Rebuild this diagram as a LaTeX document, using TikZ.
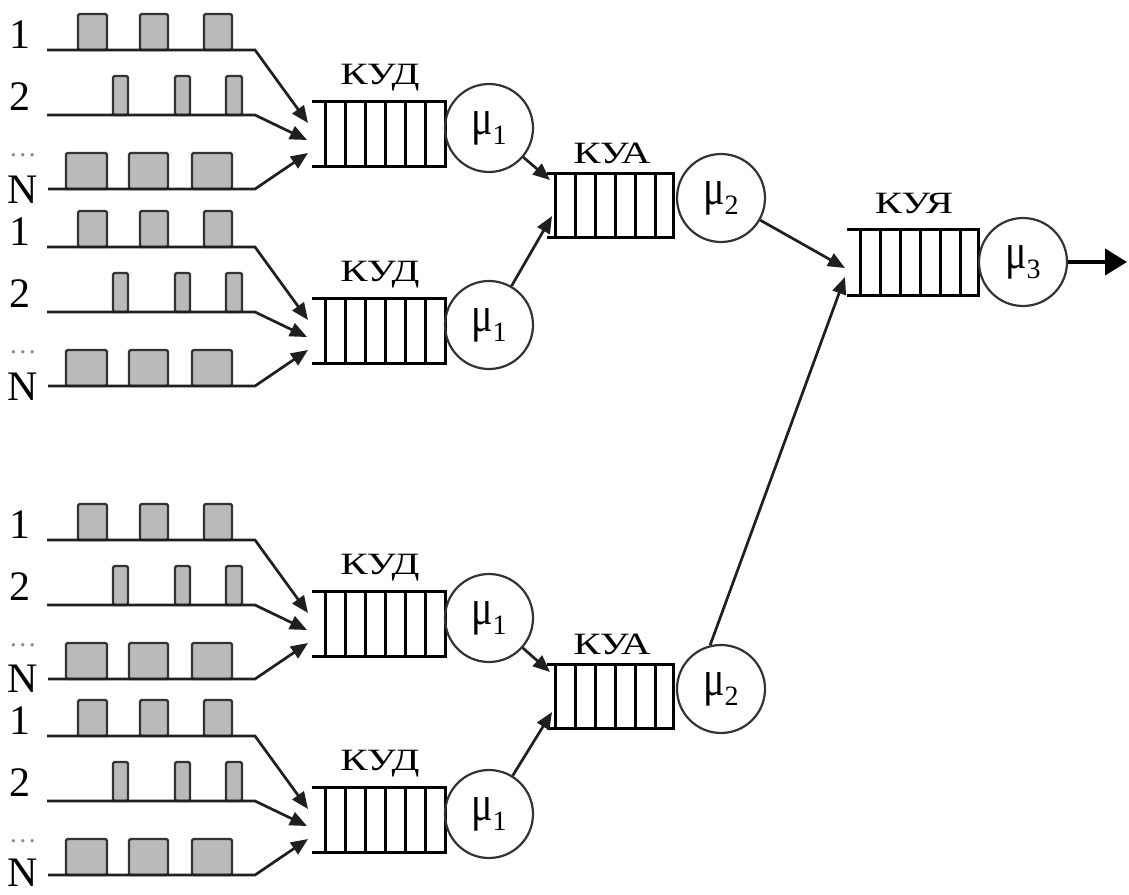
\documentclass[tikz,border=0pt]{standalone}
\usepackage{fontspec}
\setmainfont{Liberation Serif}
\usetikzlibrary{arrows.meta}
\newcommand{\mulab}[1]{\scalebox{0.8}[1]{μ}\raisebox{-10pt}{\fontsize{28}{28}\selectfont #1}}
\newcommand{\qtext}[1]{\scalebox{1.32}[1]{#1}}
\begin{document}
\begin{tikzpicture}[x=1pt,y=-1pt,
  pulse/.style={line width=2.4pt, draw=black!80, fill=black!27, rounded corners=1.5pt},
  qline/.style={line width=3pt, draw=black},
  server/.style={circle, draw=black!80, line width=2.2pt, minimum size=88pt, inner sep=0pt, font=\fontsize{50}{50}\selectfont},
  tip/.style={-{Triangle[length=17pt,width=14pt]}, line width=2.7pt, draw=black!88},
  lbl/.style={font=\fontsize{42}{42}\selectfont, inner sep=0pt, anchor=base},
  qlbl/.style={font=\fontsize{31}{31}\selectfont, inner sep=0pt, anchor=base},
  dots/.style={font=\fontsize{28}{28}\selectfont, inner sep=0pt, anchor=base, text=black!45},
]
\useasboundingbox (0,0) rectangle (1129,894);
\fill[white] (0,0) rectangle (1129,894);

% ---------- input groups ----------
\foreach \o/\g/\nb in {0/a/203,197/b/400,490/c/692,686/d/886}{
  \node[lbl] (n1\g) at (20,48+\o) {1};
  \node[lbl] (n2\g) at (20,110+\o) {2};
  \node[dots] (nd\g) at (23,156+\o) {…};
  \node[lbl] (nN\g) at (23,\nb) {N};
  % pulses
  \foreach \a/\b in {78/107,140/168,204/232}
    \draw[pulse] (\a,50+\o) rectangle (\b,14+\o);
  \foreach \a/\b in {113/128,175/190,226/242}
    \draw[pulse] (\a,115+\o) rectangle (\b,76+\o);
  \foreach \a/\b in {66/107,129/168,192/232}
    \draw[pulse] (\a,189+\o) rectangle (\b,153+\o);
  % signal lines
  \coordinate (s1\g) at (47,50+\o);  \coordinate (k1\g) at (255,50+\o);  \coordinate (t1\g) at (308,123+\o);
  \coordinate (s2\g) at (47,115+\o); \coordinate (k2\g) at (255,115+\o); \coordinate (t2\g) at (307,140+\o);
  \coordinate (s3\g) at (48,189+\o); \coordinate (k3\g) at (255,189+\o); \coordinate (t3\g) at (308,153+\o);
  \draw[tip] (s1\g) -- (k1\g) -- (t1\g);
  \draw[tip] (s2\g) -- (k2\g) -- (t2\g);
  \draw[tip] (s3\g) -- (k3\g) -- (t3\g);
  % queue KUD
  \draw[qline] (312,101+\o) -- (445,101+\o) -- (445,166+\o) -- (312,166+\o);
  \foreach \v in {325,345,365,385,405,425}
    \draw[qline] (\v,101+\o) -- (\v,166+\o);
  \node[qlbl] (q\g) at (380,84+\o) {\qtext{КУД}};
  % server mu1
  \node[server] (m\g) at (489,128+\o) {\mulab{1}};
}

% ---------- KUA queues ----------
\foreach \o/\g in {0/u,491/l}{
  \draw[qline] (547,173+\o) -- (673,173+\o) -- (673,237+\o) -- (547,237+\o);
  \foreach \v in {555,575,595,615,635,655}
    \draw[qline] (\v,173+\o) -- (\v,237+\o);
  \node[qlbl] (qa\g) at (612,163+\o) {\qtext{КУА}};
  \node[server] (mm\g) at (721,198+\o) {\mulab{2}};
}
\coordinate (ua1) at (550,180); \coordinate (ua2) at (552,216);
\coordinate (la1) at (550,672); \coordinate (la2) at (552,712);
\draw[tip] (ma) -- (ua1);
\draw[tip] (mb) -- (ua2);
\draw[tip] (mc) -- (la1);
\draw[tip] (md) -- (la2);

% ---------- KUY queue ----------
\draw[qline] (847,229) -- (978,229) -- (978,295) -- (847,295);
\foreach \v in {860,880,900,920,940,960}
  \draw[qline] (\v,229) -- (\v,295);
\node[qlbl] (qy) at (914,213) {\qtext{КУЯ}};
\node[server] (m3) at (1023,262) {\mulab{3}};
\coordinate (y1) at (845,268); \coordinate (y2) at (845,277);
\draw[tip] (mmu) -- (y1);
\draw[tip] (mml.104) -- (y2);

% ---------- output ----------
\coordinate (out) at (1127,262);
\draw[line width=4.5pt, draw=black, -{Triangle[length=22pt,width=26pt]}] (m3) -- (out);
\end{tikzpicture}
\end{document}
